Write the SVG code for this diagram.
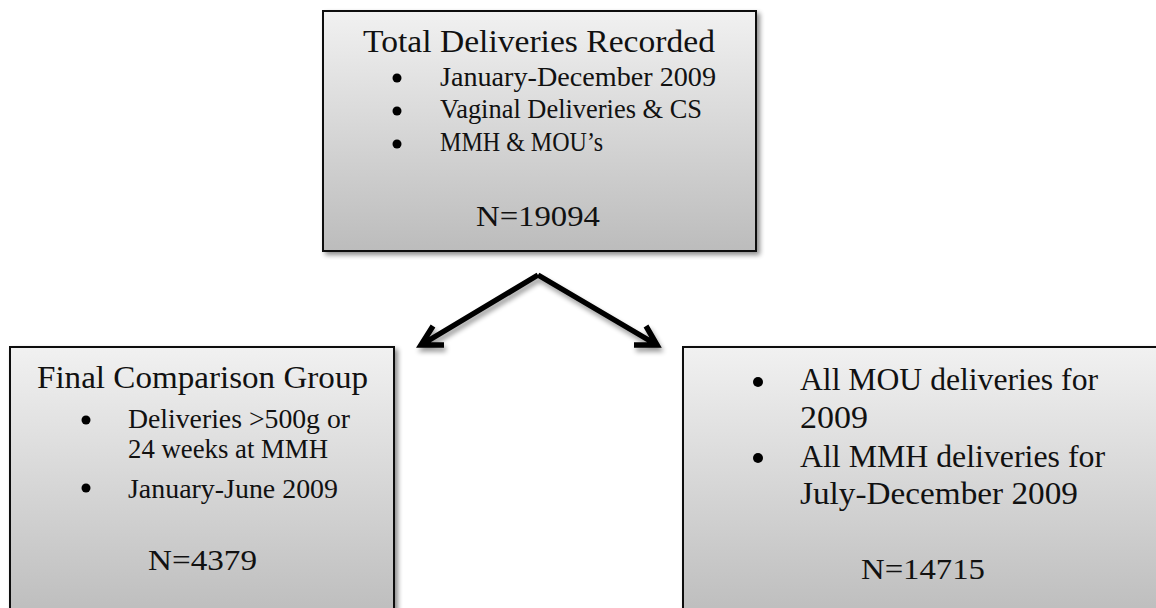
<svg xmlns="http://www.w3.org/2000/svg" width="1156" height="608" viewBox="0 0 1156 608">
<style>
.box{stroke:#111;stroke-width:2;filter:url(#sh)}
.t{font-family:"Liberation Serif","Times New Roman",serif;fill:#111}
.bul{fill:#000}
.arr{fill:none;stroke:#000;stroke-width:5.5;stroke-linejoin:miter;stroke-linecap:butt;filter:url(#sh2)}
</style>
<defs>
<linearGradient id="g" x1="0" y1="0" x2="0" y2="1">
<stop offset="0" stop-color="#f1f1f1"/>
<stop offset="1" stop-color="#bcbcbc"/>
</linearGradient>
<filter id="sh" x="-10%" y="-10%" width="125%" height="125%">
<feGaussianBlur in="SourceAlpha" stdDeviation="2.5"/>
<feOffset dx="3" dy="3" result="b"/>
<feComponentTransfer><feFuncA type="linear" slope="0.45"/></feComponentTransfer>
<feMerge><feMergeNode/><feMergeNode in="SourceGraphic"/></feMerge>
</filter>
<filter id="sh2" x="-20%" y="-20%" width="140%" height="150%">
<feGaussianBlur in="SourceAlpha" stdDeviation="2.5"/>
<feOffset dx="2" dy="4" result="b"/>
<feComponentTransfer><feFuncA type="linear" slope="0.4"/></feComponentTransfer>
<feMerge><feMergeNode/><feMergeNode in="SourceGraphic"/></feMerge>
</filter>
</defs>
<rect width="1156" height="608" fill="#fff"/>

<g id="connectors">
<path class="arr" d="M538,275 L421,345 M444,345 L421,345 L433,326"/>
<path class="arr" d="M538,275 L657,345 M634,345 L657,345 L646,326"/>
</g>

<g id="node-total">
<rect class="box" x="323" y="11" width="433" height="240" fill="url(#g)"/>
<text class="t" x="363" y="52" font-size="31" textLength="352" lengthAdjust="spacingAndGlyphs">Total Deliveries Recorded</text>
<circle class="bul" cx="397" cy="78" r="4.5"/>
<circle class="bul" cx="397" cy="111" r="4.5"/>
<circle class="bul" cx="397" cy="144" r="4.5"/>
<text class="t" x="440" y="86" font-size="28" textLength="276" lengthAdjust="spacingAndGlyphs">January-December 2009</text>
<text class="t" x="440" y="118" font-size="28" textLength="262" lengthAdjust="spacingAndGlyphs">Vaginal Deliveries &amp; CS</text>
<text class="t" x="440" y="151" font-size="28" textLength="163" lengthAdjust="spacingAndGlyphs">MMH &amp; MOU’s</text>
<text class="t" x="476" y="226" font-size="30" textLength="124" lengthAdjust="spacingAndGlyphs">N=19094</text>
</g>

<g id="node-final">
<rect class="box" x="10" y="347" width="384" height="275" fill="url(#g)"/>
<text class="t" x="37" y="388" font-size="31" textLength="331" lengthAdjust="spacingAndGlyphs">Final Comparison Group</text>
<circle class="bul" cx="86" cy="420" r="4.5"/>
<circle class="bul" cx="86" cy="488" r="4.5"/>
<text class="t" x="128" y="428" font-size="27" textLength="222" lengthAdjust="spacingAndGlyphs">Deliveries &gt;500g or</text>
<text class="t" x="128" y="458" font-size="27" textLength="200" lengthAdjust="spacingAndGlyphs">24 weeks at MMH</text>
<text class="t" x="128" y="498" font-size="27" textLength="210" lengthAdjust="spacingAndGlyphs">January-June 2009</text>
<text class="t" x="148" y="570" font-size="30" textLength="109" lengthAdjust="spacingAndGlyphs">N=4379</text>
</g>

<g id="node-mou">
<rect class="box" x="683" y="347" width="490" height="275" fill="url(#g)"/>
<circle class="bul" cx="758" cy="382" r="5"/>
<circle class="bul" cx="758" cy="458" r="5"/>
<text class="t" x="800" y="390" font-size="32" textLength="298" lengthAdjust="spacingAndGlyphs">All MOU deliveries for</text>
<text class="t" x="800" y="428" font-size="32" textLength="68" lengthAdjust="spacingAndGlyphs">2009</text>
<text class="t" x="800" y="467" font-size="32" textLength="305" lengthAdjust="spacingAndGlyphs">All MMH deliveries for</text>
<text class="t" x="800" y="504" font-size="32" textLength="278" lengthAdjust="spacingAndGlyphs">July-December 2009</text>
<text class="t" x="861" y="579" font-size="30" textLength="124" lengthAdjust="spacingAndGlyphs">N=14715</text>
</g>
</svg>
